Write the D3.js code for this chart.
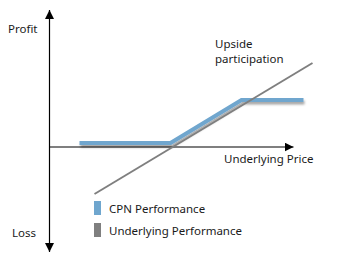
<!DOCTYPE html>
<html>
<head>
<meta charset="utf-8">
<script src="https://cdn.jsdelivr.net/npm/d3@7"></script>
<style>
  body { margin: 0; background: #fff; }
  text { font-family: "Segoe UI", "Noto Sans", sans-serif; font-size: 11.5px; fill: #1a1a1a; }
</style>
</head>
<body>
<svg width="344" height="270"></svg>
<script>
// payoff diagram values (abstract units, 0 = axis origin)
const cpnX = [30, 121, 192, 254];
const cpnY = [4, 4, 47, 47];
const undX = [45, 263];
const undY = [-47, 84];
const seriesNames = ["CPN Performance", "Underlying Performance"];
const seriesColors = ["#6fa6ce", "#7f7f7f"];

const svg = d3.select("svg");

const x = d3.scaleLinear().domain([0, 244]).range([49.5, 293.5]);
const y = d3.scaleLinear().domain([-105, 137]).range([252, 10]);

// arrow markers
const defs = svg.append("defs");
defs.append("marker")
    .attr("id", "arrow")
    .attr("viewBox", "0 0 10 10")
    .attr("refX", 10).attr("refY", 5)
    .attr("markerWidth", 9).attr("markerHeight", 9)
    .attr("markerUnits", "userSpaceOnUse")
    .attr("orient", "auto-start-reverse")
    .append("path")
    .attr("d", "M0,0L10,5L0,10Z")
    .attr("fill", "#000");

const shadow = defs.append("filter")
    .attr("id", "shadow")
    .attr("x", "-10%").attr("y", "-50%")
    .attr("width", "120%").attr("height", "200%");
shadow.append("feDropShadow")
    .attr("dx", 1).attr("dy", 2.5)
    .attr("stdDeviation", 1.2)
    .attr("flood-color", "#000")
    .attr("flood-opacity", 0.35);

// axes
svg.append("line")
    .attr("x1", x(0)).attr("x2", x(0))
    .attr("y1", y(-105)).attr("y2", y(137))
    .attr("stroke", "#000").attr("stroke-width", 1.2)
    .attr("marker-start", "url(#arrow)")
    .attr("marker-end", "url(#arrow)");

svg.append("line")
    .attr("x1", x(0)).attr("x2", x(244))
    .attr("y1", y(0)).attr("y2", y(0))
    .attr("stroke", "#000").attr("stroke-width", 1.2)
    .attr("marker-end", "url(#arrow)");

const line = d3.line().x(d => x(d[0])).y(d => y(d[1]));

svg.append("path")
    .datum(cpnX.map((v, i) => [v, cpnY[i]]))
    .attr("d", line)
    .attr("fill", "none")
    .attr("stroke", seriesColors[0])
    .attr("stroke-width", 4)
    .attr("filter", "url(#shadow)");

svg.append("path")
    .datum(undX.map((v, i) => [v, undY[i]]))
    .attr("d", line)
    .attr("fill", "none")
    .attr("stroke", seriesColors[1])
    .attr("stroke-width", 2);

// labels
svg.append("text").attr("x", 8).attr("y", 33).text("Profit");
svg.append("text").attr("x", 12).attr("y", 237).text("Loss");
svg.append("text").attr("x", 224).attr("y", 163).text("Underlying Price");
svg.append("text").attr("x", 215).attr("y", 47.5).text("Upside");
svg.append("text").attr("x", 215).attr("y", 63).text("participation");

// legend
const legend = svg.selectAll("g.legend")
    .data(seriesNames)
    .enter().append("g")
    .attr("class", "legend")
    .attr("transform", (d, i) => `translate(94, ${201 + i * 22})`);

legend.append("rect")
    .attr("width", 7).attr("height", 14)
    .attr("fill", (d, i) => seriesColors[i]);

legend.append("text")
    .attr("x", 15).attr("y", 11.5)
    .text(d => d);
</script>
</body>
</html>
